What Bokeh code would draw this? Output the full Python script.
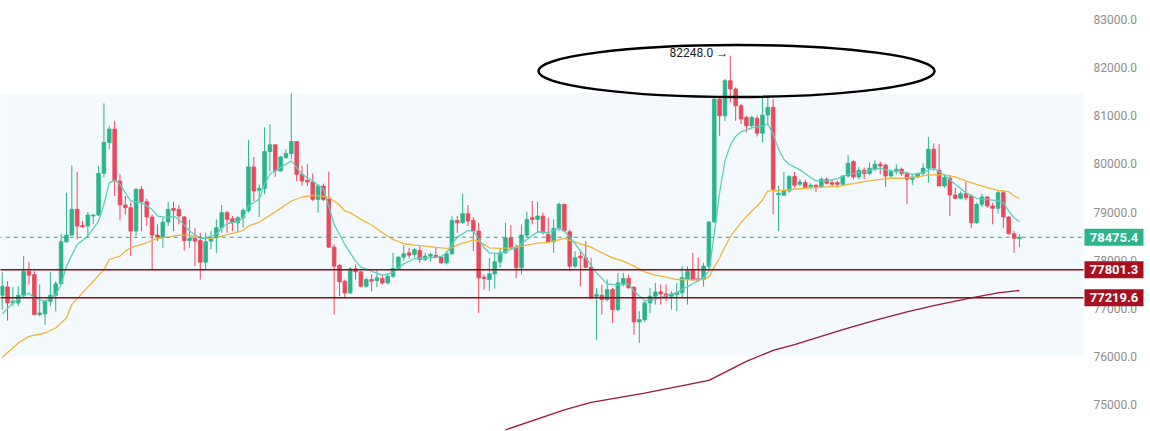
import numpy as np
from bokeh.plotting import figure
from bokeh.models import Range1d, LinearAxis, PrintfTickFormatter, FixedTicker, ColumnDataSource
from bokeh.embed import file_html
from bokeh.resources import INLINE
from bokeh.core.properties import value

# ---------------- data ----------------
opens = [77270, 77444, 77111, 77111, 77270, 77770, 77701, 76868, 76882, 77145,
         77270, 77507, 78381, 78520, 79055, 78722, 78708, 78916, 78937, 79805,
         80444, 80722, 79645, 79145, 79090, 78604, 79472, 79215, 78895, 78520,
         78479, 78791, 79076, 79055, 78895, 78409, 78451, 78409, 77958, 78395,
         78465, 78673, 78986, 78861, 78777, 78881, 79034, 79937, 79451, 79493,
         80256, 80395, 79854, 80131, 80215, 80465, 79784, 79659, 79624, 79263,
         79541, 79263, 78270, 77895, 77562, 77319, 77819, 77757, 77458, 77597,
         77576, 77618, 77527, 77666, 77826, 78062, 78152, 78118, 78201, 78013,
         78083, 78097, 78062, 77944, 78131, 78826, 78777, 78965, 78826, 78604,
         77645, 77597, 77715, 77965, 78152, 78465, 78256, 77840, 78520, 78881,
         78847, 78916, 78534, 78381, 78659, 79159, 78590, 77875, 78083, 78048,
         77854, 77250, 77270, 77180, 77388, 76972, 77513, 77618, 77437, 76715,
         76763, 77111, 77250, 77340, 77298, 77250, 77284, 77320, 77598, 77806,
         77612, 77598, 77875, 78792, 81347, 81000, 81729, 81556, 81209, 80966,
         80792, 80945, 80639, 81014, 81174, 79361, 79348, 79438, 79736, 79577,
         79611, 79528, 79556, 79528, 79681, 79611, 79611, 79577, 79750, 80048,
         79729, 79867, 79798, 79888, 79992, 79972, 79749, 79840, 79888, 79798,
         79680, 79729, 79798, 79909, 80305, 79867, 79541, 79701, 79354, 79284,
         79381, 79333, 78777, 79159, 79312, 79124, 79076, 79402, 78895, 78548,
         78451]

highs = [77750, 77562, 77444, 77458, 78083, 77965, 77770, 77493, 77180, 77750,
         77562, 78548, 79402, 79972, 79833, 78812, 78999, 78951, 79958, 81256,
         80791, 80895, 79784, 79333, 79194, 79493, 79541, 79277, 78951, 78743,
         78881, 79215, 79215, 79145, 78916, 78847, 78673, 78569, 78569, 78604,
         78847, 79145, 79020, 78916, 78916, 79076, 80492, 80145, 79576, 80756,
         80826, 80409, 80166, 80305, 81465, 80465, 79958, 79992, 79798, 79576,
         79590, 79840, 78326, 77909, 77597, 77854, 77909, 77770, 77631, 77701,
         77805, 77701, 77701, 78152, 78083, 78312, 78256, 78256, 78291, 78152,
         78152, 78270, 78083, 78187, 78916, 78916, 79381, 79145, 78895, 78777,
         77701, 78048, 78131, 78256, 78777, 78729, 78326, 78743, 79006, 79229,
         79215, 78986, 78881, 78847, 79194, 79173, 78638, 78187, 78173, 78395,
         78048, 77423, 77493, 77597, 77423, 77736, 77736, 77701, 77458, 76937,
         77145, 77423, 77527, 77493, 77493, 77354, 77527, 77875, 77875, 78153,
         78049, 77945, 78813, 81361, 81382, 81764, 82248, 81590, 81243, 81000,
         81000, 81000, 81382, 81382, 81347, 79542, 79834, 79764, 79834, 79681,
         79667, 79597, 79577, 79716, 79716, 79667, 79646, 79764, 80181, 80076,
         79937, 79923, 80027, 80076, 80048, 80006, 79888, 79992, 79923, 79840,
         79770, 79819, 80006, 80562, 80423, 80409, 79784, 79770, 79506, 79423,
         79631, 79367, 79194, 79381, 79333, 79194, 79437, 79451, 78916, 78604,
         78534]

lows = [76972, 76743, 77041, 77041, 77215, 77493, 76868, 76833, 76659, 77041,
        76937, 77493, 78361, 78499, 78430, 78673, 78499, 78743, 78916, 79715,
        80305, 79333, 78826, 78951, 78083, 78499, 78604, 78708, 77805, 78395,
        78256, 78708, 78604, 78743, 78201, 78256, 77875, 77597, 77805, 78222,
        78152, 78569, 78569, 78604, 78569, 78673, 78986, 79229, 78895, 79367,
        79840, 79729, 79840, 80097, 80097, 79645, 79541, 79541, 79229, 78986,
        79229, 78256, 76868, 77250, 77215, 77298, 77597, 77437, 77437, 77354,
        77437, 77493, 77493, 77631, 77805, 77979, 78034, 78062, 77944, 77979,
        77965, 78034, 77923, 77909, 78118, 78569, 78756, 78708, 78187, 76902,
        77388, 77354, 77409, 77840, 78131, 78222, 77631, 77701, 78465, 78743,
        78569, 78534, 78361, 78152, 78604, 78590, 77770, 77840, 77458, 77840,
        77201, 76347, 76868, 77145, 76694, 76937, 77458, 77409, 76451, 76277,
        76715, 76902, 77076, 77076, 77145, 76972, 76937, 77216, 77077, 77563,
        77563, 77445, 77841, 78778, 80584, 80896, 81278, 80896, 80827, 80653,
        80757, 80570, 80445, 80827, 78952, 78605, 79334, 79403, 79507, 79542,
        79486, 79472, 79417, 79507, 79577, 79542, 79507, 79556, 79716, 79680,
        79680, 79680, 79770, 79854, 79784, 79520, 79715, 79784, 79749, 79159,
        79562, 79701, 79770, 79611, 79854, 79541, 79506, 78916, 79263, 79263,
        79243, 78659, 78756, 79104, 79090, 78743, 78965, 78673, 78534, 78152,
        78270]

closes = [77458, 77111, 77145, 77270, 77770, 77687, 76868, 76902, 77145, 77270,
          77507, 78381, 78520, 79055, 78708, 78694, 78937, 78937, 79805, 80444,
          80722, 79645, 79145, 79090, 78604, 79472, 79215, 78895, 78520, 78479,
          78791, 79055, 79034, 78916, 78409, 78451, 78395, 77958, 78381, 78465,
          78673, 78986, 78847, 78777, 78881, 79034, 79937, 79437, 79493, 80256,
          80395, 79854, 80145, 80215, 80465, 79784, 79645, 79624, 79263, 79541,
          79263, 78270, 77875, 77548, 77319, 77819, 77757, 77458, 77597, 77562,
          77631, 77527, 77666, 77826, 78062, 78131, 78104, 78222, 78013, 78083,
          78118, 78062, 77944, 78131, 78826, 78777, 78965, 78812, 78604, 77631,
          77618, 77715, 77965, 78152, 78465, 78256, 77840, 78520, 78847, 78847,
          78916, 78569, 78381, 78659, 79159, 78604, 77875, 78048, 78048, 77854,
          77215, 77284, 77180, 77388, 76972, 77527, 77618, 77423, 76715, 76763,
          77111, 77250, 77340, 77298, 77250, 77298, 77319, 77640, 77771, 77598,
          77584, 77875, 78792, 81347, 81000, 81729, 81556, 81209, 80931, 80792,
          80966, 80639, 81014, 81174, 79473, 79389, 79438, 79736, 79556, 79625,
          79507, 79556, 79507, 79681, 79597, 79577, 79577, 79750, 80014, 79729,
          79867, 79798, 79909, 79992, 79958, 79749, 79840, 79888, 79798, 79680,
          79729, 79798, 79909, 80305, 79909, 79541, 79715, 79354, 79284, 79381,
          79298, 78777, 79159, 79312, 79124, 79076, 79402, 78895, 78548, 78451,
          78475.4]

# short moving average (teal), read at candle indices
ma_fast_idx = [0, 2, 5, 6, 8, 10, 11, 12, 14, 16, 18, 19, 20, 21, 22, 24, 26, 28, 29, 31, 32,
               33, 35, 37, 38, 40, 41, 42, 44, 45, 46, 48, 49, 50, 52, 53, 54, 55, 56, 58, 60, 61, 62, 64,
               65, 66, 67, 69, 71, 73, 74, 75, 77, 80, 82, 83, 84, 85, 87, 88, 89, 90, 91, 93, 95,
               96, 98, 100, 102, 104, 105, 107, 109, 111, 113, 115, 117, 118, 120, 122, 124, 126,
               127, 128, 129, 130, 131, 132, 133, 134, 135, 136, 137, 138, 140, 142, 143, 144, 145, 146,
               147, 149, 151, 152, 154, 156, 158,
               159, 161, 163, 164, 166, 168, 170, 172, 174, 176, 178, 180, 182, 184, 186, 187, 188, 189, 190]
ma_fast_val = [76882, 77111, 77319, 77215, 77145, 77284, 77493, 77875, 78326, 78499, 78812, 79159, 79611, 79659, 79576, 79229, 79194, 79055, 78916, 78881, 78916,
               78847, 78604, 78451, 78451, 78534, 78673, 78756, 78798, 78881, 79124, 79263, 79576, 79784, 79923, 79992, 80062, 79923, 79784, 79645, 79472, 79124, 78743, 78326,
               78152, 77979, 77854, 77770, 77687, 77736, 77840, 77923, 78034, 78048, 78076, 78152, 78326, 78479, 78617, 78604, 78451, 78256, 78152, 78131, 78222,
               78256, 78430, 78590, 78569, 78659, 78604, 78340, 78048, 77736, 77507, 77479, 77507, 77354, 77159, 77180, 77270, 77319,
               77403, 77445, 77514, 77570, 77639, 77771, 78535, 79403, 80063, 80389, 80570, 80667, 80750, 80792, 80827, 80618, 80306, 80097,
               79993, 79875, 79716, 79646, 79646, 79695, 79785,
               79798, 79840, 79888, 79909, 79854, 79840, 79784, 79819, 79909, 79770, 79576, 79402, 79284, 79263, 79229, 79194, 79020, 78881, 78798]

# medium moving average (orange)
ma_mid_idx = [0, 3, 5, 8, 10, 12, 13, 15, 17, 19, 20, 22, 23, 24, 25, 27, 28, 29, 31, 33,
              35, 37, 39, 41, 43, 45, 46, 48, 50, 52, 54, 56, 58, 60, 61, 62, 63, 64,
              65, 67, 69, 71, 73, 75, 77, 79, 81, 83, 84, 85, 86, 87, 88, 89, 90, 91, 93, 95,
              96, 98, 100, 102, 104, 105, 106, 108, 110, 112, 114, 116, 118, 120, 122, 124, 126,
              127, 129, 131, 132, 133, 134, 135, 136, 137, 138, 139, 140, 141, 142, 143, 144, 146, 148, 151, 154, 157, 158,
              159, 161, 164, 166, 168, 171, 173, 176, 178, 180, 182, 184, 186, 188, 189, 190]
ma_mid_val = [75975, 76277, 76416, 76486, 76590, 76798, 77076, 77319, 77562, 77805, 78013, 78083, 78187, 78256, 78291, 78361, 78409, 78451, 78479, 78520,
              78520, 78472, 78451, 78499, 78555, 78618, 78708, 78791, 78930, 79076, 79229, 79312, 79347, 79326, 79298, 79229, 79145, 79020,
              78986, 78847, 78729, 78569, 78430, 78340, 78312, 78291, 78263, 78243, 78256, 78312, 78354, 78381, 78423, 78395, 78326, 78256, 78243, 78256,
              78270, 78312, 78354, 78368, 78423, 78451, 78409, 78340, 78270, 78152, 78048, 77979, 77875, 77757, 77687, 77645, 77597,
              77598, 77591, 77598, 77653, 77861, 78049, 78278, 78486, 78639, 78778, 78903, 79021, 79125, 79250, 79438, 79438, 79452, 79473, 79500, 79521, 79542, 79577,
              79590, 79631, 79680, 79701, 79701, 79729, 79770, 79770, 79729, 79645, 79576, 79506, 79451, 79423, 79333, 79284]

# long moving average (dark red)
ma_long_idx = [94, 105, 110, 120, 132, 139, 144, 148, 157, 163, 169, 174, 181, 186, 190]
ma_long_val = [74473, 74890, 75042, 75238, 75500, 75896, 76125, 76244, 76556, 76750, 76925, 77056, 77216, 77321, 77369]

last_price = 78475.4
levels = [77801.3, 77219.6]
zone_top = 81460
zone_bottom = 76000
tick_values = [75000, 76000, 77000, 78000, 79000, 80000, 81000, 82000, 83000]

# ---------------- figure ----------------
GREEN = "#2bb48c"
RED = "#e9495c"
LEVEL_RED = "#8a0c1a"
TAG_RED = "#a8101f"

W, H = 1150, 431
x_start, x_end = -0.318, 214.48      # full canvas width
x_edge = 201.96                       # right edge of the price area (price scale starts here)
px_per_bar = W / (x_end - x_start)

p = figure(width=W, height=H, output_backend="svg", toolbar_location=None,
           x_range=Range1d(x_start, x_end), y_range=Range1d(74439, 83395),
           x_axis_location=None, y_axis_location=None,
           min_border_left=0, min_border_right=0, min_border_top=0, min_border_bottom=0)
p.grid.grid_line_color = None
p.outline_line_color = None
p.background_fill_color = "white"
p.border_fill_color = "white"

yaxis = LinearAxis(ticker=FixedTicker(ticks=tick_values),
                   formatter=PrintfTickFormatter(format="%.1f"),
                   fixed_location=x_edge)
yaxis.axis_line_color = None
yaxis.major_tick_line_color = None
yaxis.minor_tick_line_color = None
yaxis.major_tick_out = 0
yaxis.major_tick_in = 0
yaxis.major_label_standoff = 10
yaxis.major_label_text_color = "#8e8e8e"
yaxis.major_label_text_font = "Roboto"
yaxis.major_label_text_font_size = "12px"
p.add_layout(yaxis, "right")

# session zone
p.quad(left=[x_start - 5], right=[x_edge], top=[zone_top], bottom=[zone_bottom],
       fill_color="#f3f9fc", line_color=None)

o = np.array(opens, dtype=float)
c = np.array(closes, dtype=float)
h = np.maximum(np.array(highs, dtype=float), np.maximum(o, c))
l = np.minimum(np.array(lows, dtype=float), np.minimum(o, c))
idx = np.arange(len(o))
col = [GREEN if cc >= oo else RED for oo, cc in zip(o, c)]
src = ColumnDataSource(dict(x=idx, o=o, c=c, h=h, l=l, top=np.maximum(o, c),
                            bottom=np.minimum(o, c), color=col))
p.segment(x0="x", y0="l", x1="x", y1="h", color="color", line_width=1, source=src)
p.vbar(x="x", width=0.68, top="top", bottom="bottom", fill_color="color",
       line_color="color", line_width=0.8, source=src)

# moving averages
p.line(ma_long_idx, ma_long_val, line_color="#9c1636", line_width=1.3)
p.line(ma_mid_idx, ma_mid_val, line_color="#f2b53a", line_width=1.3)
p.line(ma_fast_idx, ma_fast_val, line_color="#5dcfbf", line_width=1.3)

# levels
n_lv = len(levels)
p.segment(x0=[x_start - 5] * n_lv, x1=[x_edge] * n_lv, y0=levels, y1=levels,
          line_color=LEVEL_RED, line_width=1.5)
p.segment(x0=[x_start - 5], x1=[x_edge], y0=[last_price], y1=[last_price],
          line_color="#2bab8a", line_width=1, line_dash="4 4")

# highlight ellipse around the high
imax = int(np.argmax(h))
hmax = float(h[imax])
p.ellipse(x=[imax + 1.15], y=[hmax - 318], width=[74], height=[1080],
          fill_color=None, line_color="black", line_width=2.5)
p.text(x=[imax - 0.4], y=[hmax], text=[f"{hmax:.1f} \u2192"], text_align="right",
       text_baseline="middle", y_offset=-3, text_font=value("Roboto"),
       text_font_size="12px", text_color="#222222")

# price tags on the price scale
tag_vals = [last_price] + levels
tag_cols = [GREEN, TAG_RED, TAG_RED]
tag_x = x_edge + 30.5 / px_per_bar
tags = ColumnDataSource(dict(x=[tag_x] * 3, y=tag_vals, color=tag_cols,
                             label=[f"{v:.1f}" for v in tag_vals]))
r1 = p.rect(x="x", y="y", width=59, height=17, width_units="screen", height_units="screen",
            fill_color="color", line_color=None, source=tags)
r2 = p.text(x="x", y="y", text="label", text_align="center", text_baseline="middle",
            text_color="white", text_font=value("Roboto"), text_font_style="bold",
            text_font_size="13px", source=tags)
r1.level = "overlay"
r2.level = "overlay"

open("out.html", "w").write(file_html(p, INLINE))
